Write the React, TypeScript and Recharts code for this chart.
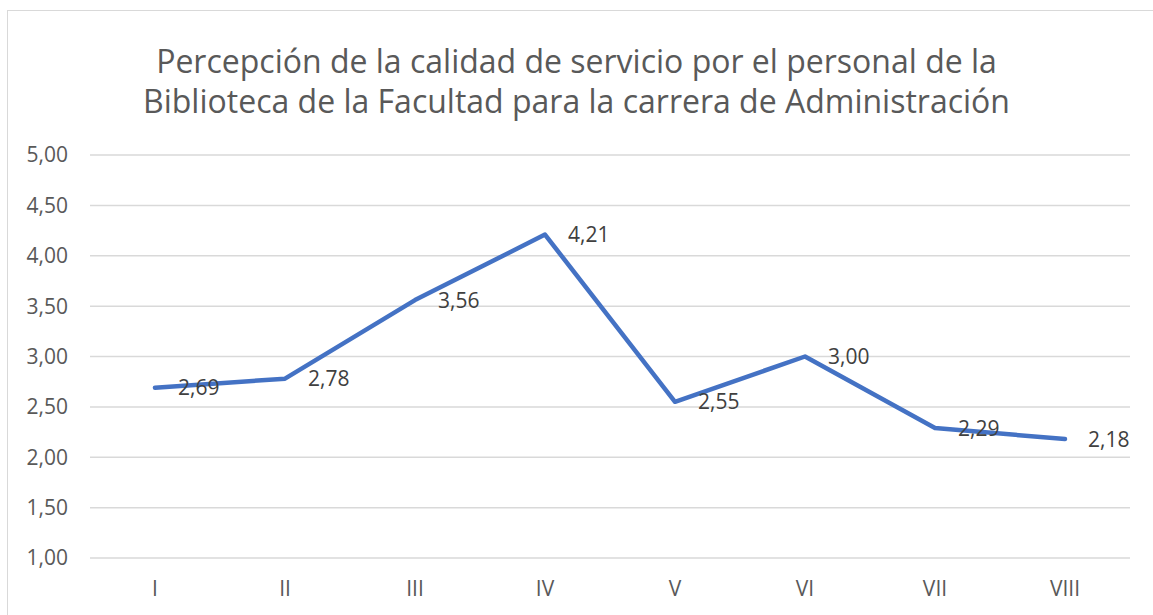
import React from 'react';
import { LineChart, Line, XAxis, YAxis, CartesianGrid, LabelList } from 'recharts';

const semesters = ['I', 'II', 'III', 'IV', 'V', 'VI', 'VII', 'VIII'];
const scores = [2.69, 2.78, 3.56, 4.21, 2.55, 3.0, 2.29, 2.18];
const yTicks = [1, 1.5, 2, 2.5, 3, 3.5, 4, 4.5, 5];

const FONT = '"Open Sans", sans-serif';

const fmt = (v: number) => v.toFixed(2).replace('.', ',');

const data = semesters.map((s, i) => ({ name: s, value: scores[i] }));

// value labels sit to the right of each point, like the Excel original
const ValueLabel = (props: any) => {
  const { x, y, value } = props;
  return (
    <text
      x={x + 23}
      y={y + 2}
      fill="#404040"
      fontSize={21}
      fontFamily={FONT}
      textAnchor="start"
      dominantBaseline="middle"
    >
      {fmt(value)}
    </text>
  );
};

export default function App() {
  return (
    <div style={{ position: 'absolute', left: 0, top: 0, width: 1153, height: 615, overflow: 'hidden', background: '#fff' }}>
      <div
        style={{
          position: 'absolute',
          left: 7,
          top: 10,
          width: 1180,
          height: 640,
          border: '1px solid #d9d9d9',
        }}
      />
      <div
        style={{
          position: 'absolute',
          left: 0,
          top: 41,
          width: 1153,
          textAlign: 'center',
          fontFamily: FONT,
          fontSize: 32,
          lineHeight: '40px',
          color: '#595959',
        }}
      >
        Percepción de la calidad de servicio por el personal de la
        <br />
        Biblioteca de la Facultad para la carrera de Administración
      </div>
      <div style={{ position: 'absolute', left: 0, top: 0 }}>
        <LineChart width={1153} height={615} data={data} margin={{ top: 155, right: 23, bottom: 17, left: 10 }}>
          <CartesianGrid vertical={false} stroke="#d9d9d9" strokeWidth={1.5} />
          <XAxis
            dataKey="name"
            axisLine={false}
            tickLine={false}
            padding={{ left: 65, right: 65 }}
            height={40}
            tickMargin={17}
            tick={{ fill: '#595959', fontSize: 21, fontFamily: FONT }}
          />
          <YAxis
            domain={[1, 5]}
            ticks={yTicks}
            width={80}
            axisLine={false}
            tickLine={false}
            tickMargin={16}
            tickFormatter={fmt}
            tick={{ fill: '#595959', fontSize: 21, fontFamily: FONT }}
          />
          <Line
            type="linear"
            dataKey="value"
            stroke="#4472C4"
            strokeWidth={4.5}
            strokeLinejoin="round"
            strokeLinecap="round"
            dot={false}
            isAnimationActive={false}
          >
            <LabelList dataKey="value" content={ValueLabel} />
          </Line>
        </LineChart>
      </div>
    </div>
  );
}
